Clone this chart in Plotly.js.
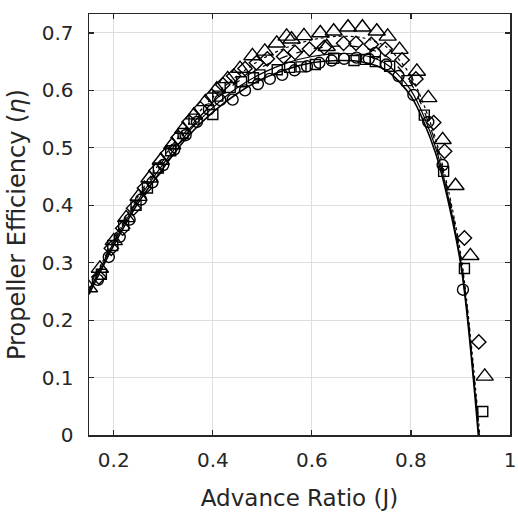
<!DOCTYPE html>
<html>
<head>
<meta charset="utf-8">
<script src="https://cdn.plot.ly/plotly-3.0.1.min.js"></script>
<style>html,body{margin:0;padding:0;background:#fff;}</style>
</head>
<body>
<div id="chart" style="width:518px;height:513px;"></div>
<script>
// Measured data (advance ratio J, efficiency eta)
const circleJ = [0.168,0.19,0.212,0.232,0.255,0.278,0.30,0.322,0.345,0.368,0.392,0.415,0.44,0.465,0.491,0.515,0.54,0.565,0.59,0.615,0.64,0.665,0.69,0.715,0.728,0.75,0.775,0.805,0.835,0.864,0.905];
const circleEta = [0.27,0.31,0.345,0.375,0.41,0.44,0.47,0.497,0.522,0.545,0.567,0.583,0.584,0.600,0.611,0.62,0.627,0.635,0.642,0.648,0.652,0.655,0.657,0.655,0.665,0.645,0.625,0.592,0.545,0.47,0.253];

const squareJ = [0.175,0.198,0.22,0.245,0.268,0.29,0.315,0.34,0.362,0.4,0.41,0.435,0.458,0.482,0.495,0.53,0.555,0.578,0.607,0.644,0.685,0.708,0.728,0.757,0.792,0.827,0.866,0.908,0.945];
const squareEta = [0.28,0.33,0.365,0.40,0.43,0.465,0.495,0.525,0.55,0.558,0.59,0.605,0.615,0.622,0.627,0.636,0.64,0.641,0.645,0.656,0.652,0.654,0.650,0.642,0.617,0.557,0.459,0.29,0.041];

const diamondJ = [0.17,0.195,0.218,0.24,0.262,0.285,0.308,0.33,0.352,0.375,0.398,0.42,0.442,0.465,0.488,0.51,0.543,0.566,0.595,0.625,0.664,0.689,0.72,0.748,0.782,0.81,0.846,0.868,0.908,0.937];
const diamondEta = [0.275,0.325,0.36,0.395,0.43,0.46,0.49,0.518,0.545,0.568,0.59,0.61,0.625,0.638,0.648,0.655,0.659,0.666,0.672,0.675,0.682,0.682,0.68,0.672,0.653,0.62,0.544,0.494,0.343,0.162];

const triangleJ = [0.15,0.172,0.2,0.225,0.25,0.272,0.295,0.318,0.34,0.362,0.385,0.408,0.43,0.455,0.48,0.505,0.529,0.549,0.559,0.584,0.617,0.63,0.644,0.673,0.702,0.731,0.753,0.777,0.812,0.835,0.864,0.89,0.92,0.949];
const triangleEta = [0.256,0.29,0.338,0.378,0.415,0.447,0.478,0.505,0.532,0.557,0.58,0.602,0.62,0.638,0.66,0.668,0.682,0.694,0.689,0.695,0.70,0.676,0.703,0.71,0.71,0.703,0.694,0.671,0.633,0.587,0.514,0.434,0.312,0.102];

// Fit curves
const fitJ = [0.15,0.2,0.25,0.3,0.35,0.4,0.45,0.5,0.55,0.6,0.65,0.7,0.75,0.8,0.85,0.9,0.936];
const fitSolid = [0.245,0.33,0.405,0.465,0.52,0.562,0.595,0.62,0.637,0.648,0.652,0.650,0.635,0.59,0.49,0.30,0.0];
const fitSolid2J = [0.15,0.2,0.25,0.3,0.35,0.4,0.45,0.5,0.55,0.6,0.65,0.7,0.75,0.8,0.85,0.9,0.937];
const fitSolid2 = [0.25,0.335,0.41,0.472,0.527,0.57,0.605,0.63,0.648,0.659,0.664,0.662,0.646,0.6,0.5,0.305,0.0];
const fitDashJ = [0.15,0.2,0.25,0.3,0.35,0.4,0.45,0.5,0.55,0.6,0.65,0.7,0.75,0.8,0.85,0.9,0.938];
const fitDash = [0.252,0.337,0.413,0.478,0.533,0.579,0.615,0.641,0.66,0.672,0.677,0.675,0.66,0.612,0.508,0.312,0.0];
const fitDotJ = [0.15,0.2,0.25,0.3,0.35,0.4,0.45,0.5,0.55,0.6,0.65,0.7,0.75,0.8,0.85,0.9,0.939];
const fitDot = [0.255,0.34,0.417,0.483,0.54,0.588,0.626,0.655,0.675,0.688,0.694,0.692,0.676,0.625,0.515,0.318,0.0];

const xTicks = [0.2,0.4,0.6,0.8,1];
const yTicks = [0,0.1,0.2,0.3,0.4,0.5,0.6,0.7];

const lw = 1.4;
const FONT = 'DejaVu Sans, Liberation Sans, Arial, sans-serif';
function lineTrace(x,y,dash,w){
  return {x:x,y:y,type:'scatter',mode:'lines',line:{color:'#000',width:w||1.5,dash:dash,shape:'spline',smoothing:0.8},hoverinfo:'skip',showlegend:false};
}
function markTrace(x,y,sym,size){
  return {x:x,y:y,type:'scatter',mode:'markers',marker:{symbol:sym,size:size,color:'#000',line:{color:'#000',width:lw}},showlegend:false};
}

const data = [
  lineTrace(fitJ,fitSolid,'solid',1.6),
  lineTrace(fitSolid2J,fitSolid2,'solid',1.2),
  lineTrace(fitDashJ,fitDash,'dash',1.2),
  lineTrace(fitDotJ,fitDot,'dot',1.2),
  markTrace(circleJ,circleEta,'circle-open',11),
  markTrace(squareJ,squareEta,'square-open',10),
  markTrace(diamondJ,diamondEta,'diamond-open',11),
  markTrace(triangleJ,triangleEta,'triangle-up-open',15)
];

const axisCommon = {
  showline:true, mirror:'ticks', linecolor:'#262626', linewidth:1.5,
  ticks:'inside', ticklen:5, tickwidth:1.2, tickcolor:'#262626',
  showgrid:true, gridcolor:'#dedede', gridwidth:1, zeroline:false,
  tickfont:{family:FONT, size:20, color:'#262626'}
};

const layout = {
  width:518, height:513,
  margin:{l:89, r:8, t:14, b:78},
  paper_bgcolor:'#fff', plot_bgcolor:'#fff',
  xaxis: Object.assign({}, axisCommon, {
    range:[0.15,1.0], tickvals:xTicks, ticktext:xTicks.map(String),
    ticklabelstandoff:6,
    title:{text:'Advance Ratio (J)', font:{family:FONT, size:23, color:'#262626'}, standoff:19}
  }),
  yaxis: Object.assign({}, axisCommon, {
    range:[0,0.733], tickvals:yTicks, ticktext:yTicks.map(String),
    ticklabelstandoff:10,
    title:{text:'Propeller Efficiency (<i>η</i>)', font:{family:FONT, size:24, color:'#262626'}, standoff:9}
  })
};

Plotly.newPlot('chart', data, layout, {displayModeBar:false, staticPlot:true});
</script>
</body>
</html>
